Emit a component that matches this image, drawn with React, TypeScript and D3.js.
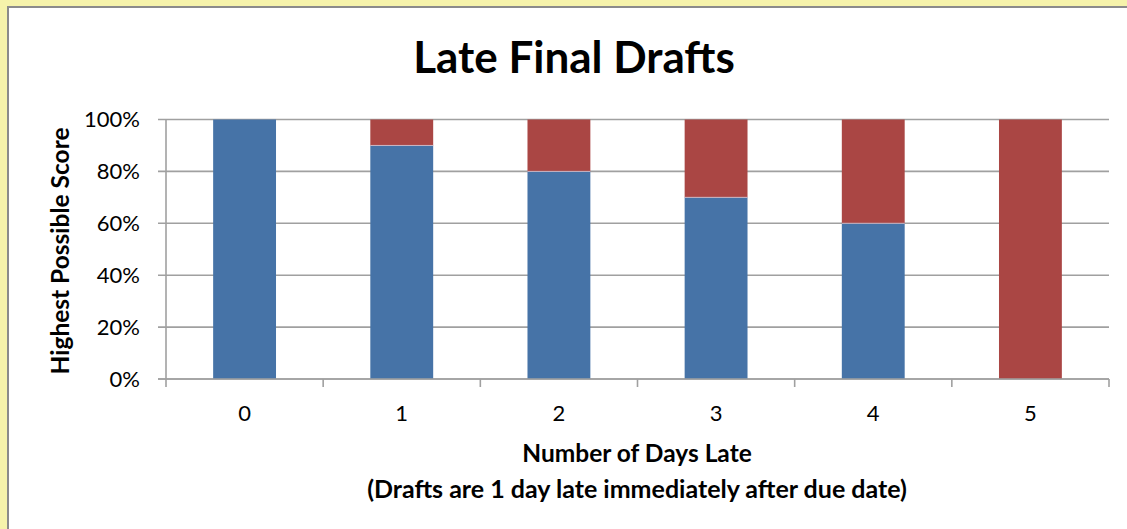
import React from "react";
import * as d3 from "d3";

const categories = ["0", "1", "2", "3", "4", "5"];
const onTimeShare = [1.0, 0.9, 0.8, 0.7, 0.6, 0.0];
const penaltyShare = [0.0, 0.1, 0.2, 0.3, 0.4, 1.0];
const yTicks = [0, 0.2, 0.4, 0.6, 0.8, 1.0];

const W = 1127;
const H = 529;
const FONT = "Lato, 'Open Sans', sans-serif";

export default function App() {
  const left = 166, right = 1109, top = 119.5, bottom = 379;
  const x = d3.scaleBand<string>().domain(categories).range([left, right]).paddingInner(0.6).paddingOuter(0.3);
  const y = d3.scaleLinear().domain([0, 1]).range([bottom, top]);
  const step = x.step();
  const fmt = d3.format(".0%");
  const boundaries = d3.range(categories.length + 1).map((i) => left + i * step);

  return (
    <svg width={W} height={H} style={{ position: "absolute", left: 0, top: 0 }} fontFamily={FONT}>
      <rect x={0} y={0} width={W} height={H} fill="#F6F3AB" />
      <rect x={8} y={7} width={W + 20} height={H + 20} fill="#FFFFFF" stroke="#8B8B8B" strokeWidth={2} />
      <text x={574} y={73} textAnchor="middle" fontSize={44} fontWeight="bold" fill="#000">Late Final Drafts</text>

      {yTicks.map((t) => (
        <g key={t}>
          <line x1={158} x2={right} y1={y(t)} y2={y(t)} stroke="#A0A0A0" strokeWidth={1.6} />
          <text x={140} y={y(t)} dy="0.35em" textAnchor="end" fontSize={22} fill="#000">{fmt(t)}</text>
        </g>
      ))}
      <line x1={left} x2={left} y1={top} y2={bottom} stroke="#A0A0A0" strokeWidth={1.6} />

      {categories.map((c, i) => (
        <g key={c}>
          <rect x={x(c)} width={x.bandwidth()} y={y(onTimeShare[i])} height={y(0) - y(onTimeShare[i])} fill="#4673A7" />
          <rect x={x(c)} width={x.bandwidth()} y={y(onTimeShare[i] + penaltyShare[i])} height={y(0) - y(penaltyShare[i])} fill="#AA4644" />
          {onTimeShare[i] > 0 && penaltyShare[i] > 0 && (
            <line x1={x(c)} x2={(x(c) as number) + x.bandwidth()} y1={y(onTimeShare[i])} y2={y(onTimeShare[i])} stroke="#C9B7C6" strokeWidth={1} />
          )}
          <text x={(x(c) as number) + x.bandwidth() / 2} y={413} dy="0.35em" textAnchor="middle" fontSize={22} fill="#000">{c}</text>
        </g>
      ))}

      <line x1={158} x2={right} y1={bottom} y2={bottom} stroke="#A0A0A0" strokeWidth={1.6} />
      {boundaries.map((b, i) => (
        <line key={i} x1={b} x2={b} y1={bottom} y2={bottom + 8} stroke="#A0A0A0" strokeWidth={1.6} />
      ))}

      <text x={637} y={462} textAnchor="middle" fontSize={24.5} fontWeight="bold" fill="#000">Number of Days Late</text>
      <text x={637} y={498} textAnchor="middle" fontSize={25} fontWeight="bold" fill="#000">(Drafts are 1 day late immediately after due date)</text>
      <text transform={`translate(69, 251) rotate(-90)`} textAnchor="middle" fontSize={24.5} fontWeight="bold" fill="#000">Highest Possible Score</text>
    </svg>
  );
}
